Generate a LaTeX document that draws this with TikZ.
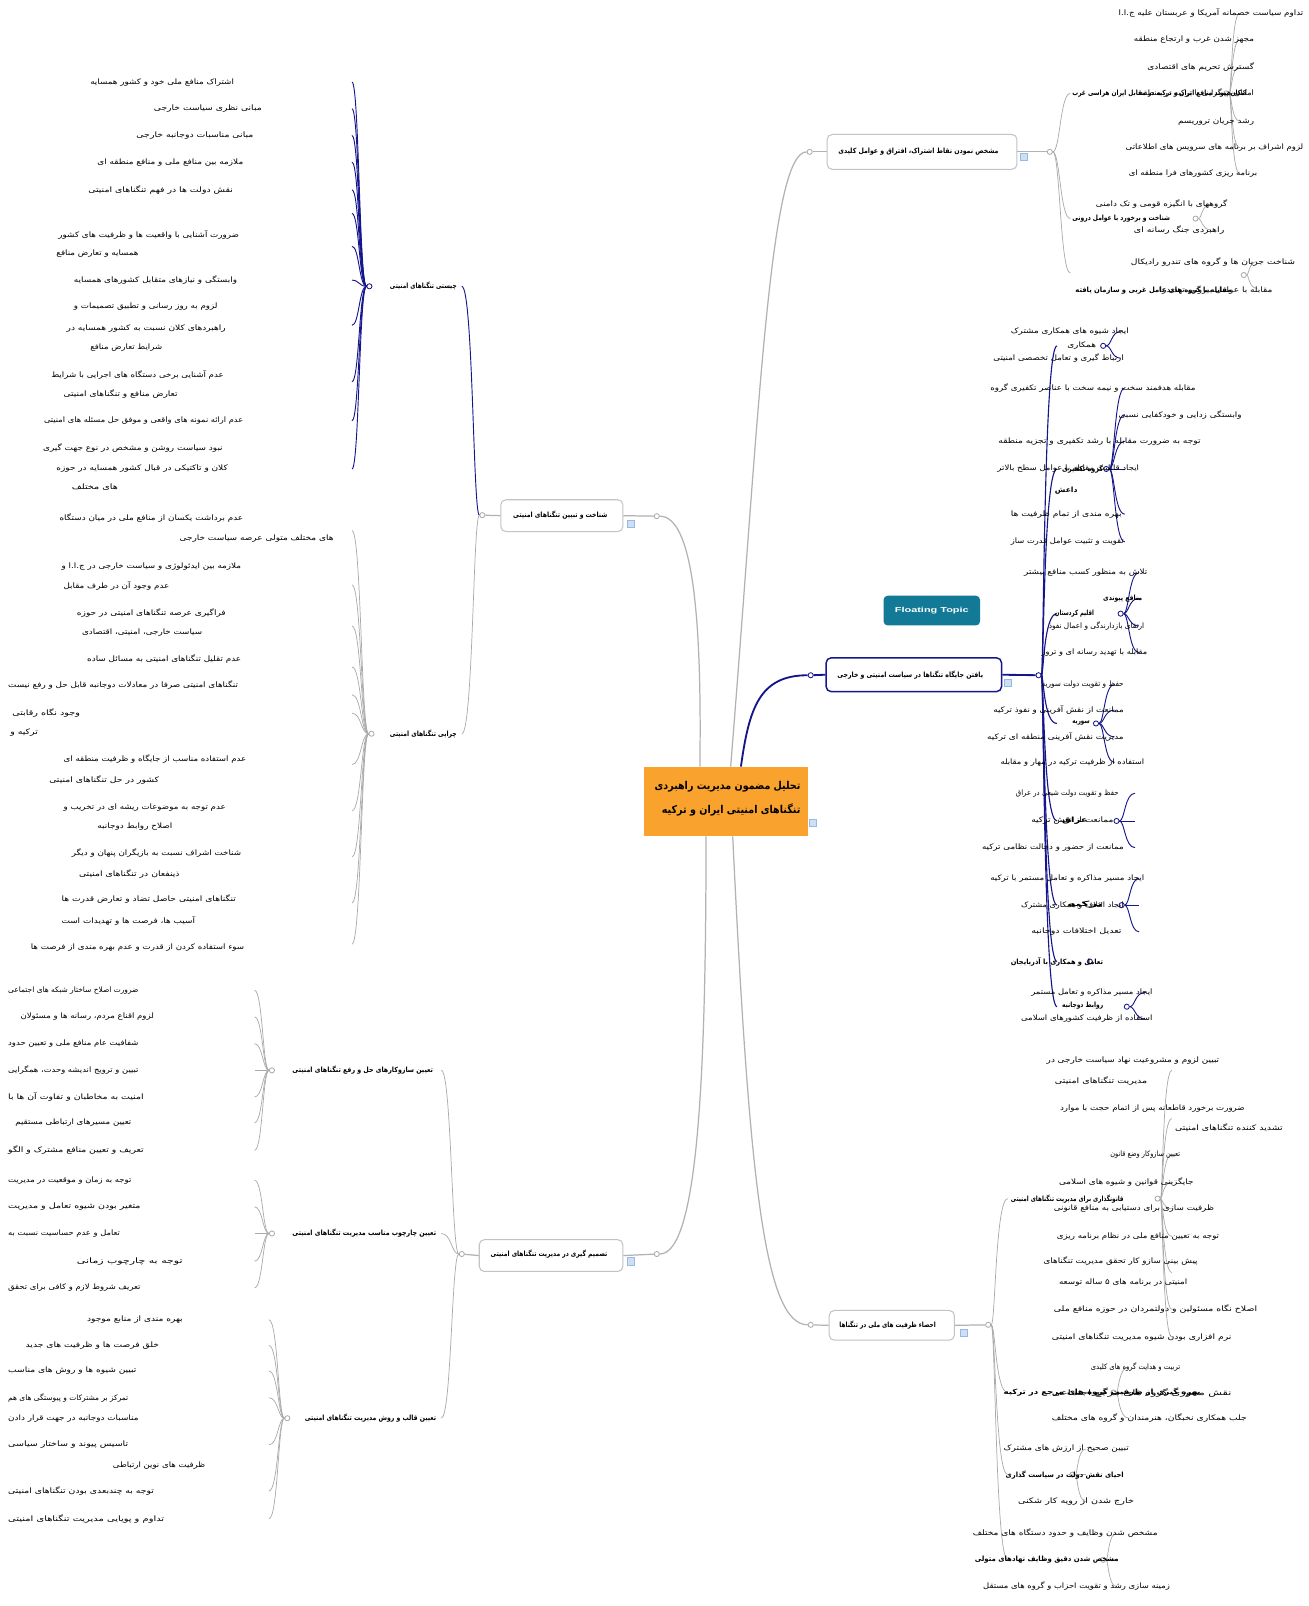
\documentclass[tikz,border=0pt]{standalone}
\usepackage{fontspec}
\usepackage{graphicx}
\setmainfont{DejaVu Sans}
\newfontfamily\farsi[Script=Arabic]{DejaVu Sans}
\newfontfamily\latinsans{Liberation Sans}
\TeXXeTstate=1
\definecolor{mnavy}{RGB}{22,22,140}
\definecolor{lgray}{RGB}{170,170,170}
\definecolor{bxgray}{RGB}{195,195,195}
\definecolor{orng}{RGB}{249,162,45}
\definecolor{ftteal}{RGB}{18,122,150}
\definecolor{plusf}{RGB}{205,222,245}
\definecolor{plusd}{RGB}{150,185,230}
\newcounter{tn}
\newcommand\fa[1]{{\farsi\beginR #1\endR}}
\newcommand\ptg[5]{%
  \stepcounter{tn}%
  \pgfmathsetmacro\tlx{(#2+#3)/2}%
  \pgfmathsetlengthmacro\tlw{#3-#2}%
  \node[#1] (t\arabic{tn}) at (\tlx,#4) {\resizebox{\tlw}{\height}{\fa{#5}}};}
\newcommand\ptx{\ptg{txt}}
\newcommand\ptb{\ptg{lbl}}
% #1 style, #2 circle node, #3 circle y, #4 spine x, #5 end x, #6 list of y
\newcommand\brk[6]{%
  \foreach \yy [count=\k] in {#6} {%
    \coordinate (#2-\k) at (#5,\yy);
    \draw[#1] (#2) .. controls (#4,#3) and (#4,\yy) .. (#2-\k);}}
\begin{document}
\begin{tikzpicture}[x=1pt,y=-1pt,
  txt/.style={inner sep=0pt, font=\fontsize{7.3}{8}\selectfont},
  lbl/.style={inner sep=0pt, font=\fontsize{7}{8}\selectfont\bfseries},
  rootf/.style={inner sep=0pt, font=\fontsize{10.5}{12}\selectfont\bfseries},
  nl/.style={draw=mnavy, line width=0.9pt},
  nlt/.style={draw=mnavy, line width=1.1pt},
  gl/.style={draw=lgray, line width=0.7pt},
  gmain/.style={draw=lgray!90, line width=1.2pt},
  nmain/.style={draw=mnavy, line width=1.8pt},
  jn/.style={circle, draw=#1, fill=white, inner sep=0pt, minimum size=5pt, line width=0.8pt},
  topic/.style={draw=bxgray, line width=1pt, rounded corners=5pt, fill=white, inner sep=0pt},
  plus/.style={draw=plusd, fill=plusf, inner sep=0pt, minimum size=7pt, line width=0.5pt}]
\useasboundingbox (0,0) rectangle (1275,1565);
\fill[white] (0,0) rectangle (1275,1565);

% ---------- root ----------
\node[fill=orng, minimum width=159, minimum height=68, inner sep=0pt] (root) at (707.5,781) {};
\ptg{rootf}{638}{780}{767}{تحلیل مضمون مدیریت راهبردی}
\ptg{rootf}{645}{780}{789}{تنگناهای امنیتی ایران و ترکیه}
\node[plus] (p0) at (792,802) {};
\coordinate (rt1) at (682,747);
\coordinate (rt2) at (712,747);
\coordinate (rt3) at (722,747);
\coordinate (rb1) at (688,815);
\coordinate (rb2) at (714,815);

% ---------- floating topic ----------
\node[fill=ftteal, rounded corners=4pt, minimum width=94, minimum height=29, inner sep=0pt, text=white] (ft) at (908,595)
  {\resizebox{72pt}{\height}{\latinsans\bfseries\fontsize{7}{8}\selectfont Floating Topic}};

% ---------- main boxes ----------
\node[topic, minimum width=185, minimum height=34] (btr) at (898.5,148) {};
\ptb{817}{973}{148}{مشخص نمودن نقاط اشتراک، افتراق و عوامل کلیدی}
\node[topic, minimum width=119, minimum height=31] (btl) at (547.5,502.5) {};
\ptb{500}{592}{502}{شناخت و تبیین تنگناهای امنیتی}
\node[topic, draw=mnavy, line width=1.4pt, minimum width=171, minimum height=33] (bmr) at (890.5,657.5) {};
\ptb{816}{958}{658}{یافتن جایگاه تنگناها در سیاست امنیتی و خارجی}
\node[topic, minimum width=140, minimum height=31] (bbl) at (537,1223.5) {};
\ptb{478}{592}{1222}{تصمیم گیری در مدیریت تنگناهای امنیتی}
\node[topic, minimum width=122, minimum height=29] (bbr) at (869,1291.5) {};
\ptb{818}{912}{1291}{احصاء ظرفیت های ملی در تنگناها}

\node[plus] (p1) at (998,153) {};
\node[plus] (p2) at (615,510) {};
\node[plus] (p3) at (982,665) {};
\node[plus] (p4) at (615,1229) {};
\node[plus] (p5) at (939,1299) {};

% ---------- junction circles ----------
\node[jn=lgray] (ctr) at (789,148) {};
\node[jn=lgray] (ctl) at (640,503) {};
\node[jn=mnavy] (cmr) at (790,658) {};
\node[jn=lgray] (cbl) at (640,1222) {};
\node[jn=lgray] (cbr) at (790,1291) {};
\node[jn=lgray] (jtr) at (1023,148) {};
\node[jn=lgray] (jtl) at (470,502) {};
\node[jn=mnavy] (jmr) at (1012,658) {};
\node[jn=lgray] (jbl) at (450,1222) {};
\node[jn=lgray] (jbr) at (963,1291) {};

% ---------- root connectors ----------
\draw[gmain] (rt1) .. controls (684,600) and (675,503) .. (ctl);
\draw[gmain] (rt2) .. controls (740,400) and (750,148) .. (ctr);
\draw[nmain] (rt3) .. controls (730,690) and (740,658) .. (cmr);
\draw[gmain] (rb1) .. controls (688,1050) and (680,1222) .. (cbl);
\draw[gmain] (rb2) .. controls (730,1150) and (745,1291) .. (cbr);
\draw[gmain] (ctr) -- (btr.west);
\draw[gmain] (ctl) -- (btl.east);
\draw[nmain] (cmr) -- (bmr.west);
\draw[gmain] (cbl) -- (bbl.east);
\draw[gmain] (cbr) -- (bbr.west);
\draw[gmain] (btr.east) -- (jtr);
\draw[gmain] (btl.west) -- (jtl);
\draw[nmain] (bmr.east) -- (jmr);
\draw[gmain] (bbl.west) -- (jbl);
\draw[gmain] (bbr.east) -- (jbr);

% =============== TOP RIGHT ===============
\node[jn=lgray] (cra) at (1195,91) {};
\node[jn=lgray] (crb) at (1165,213) {};
\node[jn=lgray] (crc) at (1212,268) {};
\brk{gl}{jtr}{148}{1033}{1043}{91,213,266}
\brk{gl}{cra}{91}{1200}{1208}{13,39,65,91,118,144,169}
\brk{gl}{crb}{213}{1171}{1180}{199,224}
\brk{gl}{crc}{268}{1217}{1225}{255,281}
\ptx{1090}{1270}{13}{تداوم سیاست خصمانه آمریکا و عربستان علیه ج.ا.ا}
\ptx{1105}{1222}{39}{مجهز شدن غرب و ارتجاع منطقه}
\ptx{1118}{1222}{65}{گسترش تحریم های اقتصادی}
\ptb{1045}{1215}{91}{امکان پیوند منافع ایران و ترکیه در مقابل ایران هراسی غرب}
\ptx{1110}{1222}{91}{امکان همگرایی با ترکیه در منطقه}
\ptx{1148}{1222}{118}{رشد جریان تروریسم}
\ptx{1097}{1270}{144}{لزوم اشراف بر برنامه های سرویس های اطلاعاتی}
\ptx{1100}{1225}{169}{برنامه ریزی کشورهای فرا منطقه ای}
\ptx{1068}{1196}{199}{گروههای با انگیزه قومی و تک دامنی}
\ptb{1045}{1140}{213}{شناخت و برخورد با عوامل درونی}
\ptx{1105}{1193}{224}{راهبردی جنگ رسانه ای}
\ptx{1102}{1262}{255}{شناخت جریان ها و گروه های تندرو رادیکال}
\ptb{1048}{1200}{283}{مقابله با گروه های عامل غربی و سازمان یافته}
\ptx{1130}{1240}{283}{مقابله با عوامل بیرونی تهدیدزا}

% =============== TOP LEFT ===============
\coordinate (el1) at (450,279);
\coordinate (el2) at (450,715);
\draw[nl] (jtl) .. controls (461,502) and (461,279) .. (el1);
\draw[gl] (jtl) .. controls (461,502) and (461,715) .. (el2);
\ptb{380}{445}{279}{چیستی تنگناهای امنیتی}
\ptb{380}{445}{715}{چرایی تنگناهای امنیتی}
\node[jn=mnavy] (cl1) at (360,279) {};
\node[jn=lgray] (cl2) at (362,715) {};
\brk{nl}{cl1}{279}{350}{343}{80,106,132,158,185,208,240,273,317,372,410,457}
\brk{gl}{cl2}{715}{352}{343}{517,570,610,650,677,695,745,790,835,880,920}

\ptx{88}{228}{80}{اشتراک منافع ملی خود و کشور همسایه}
\ptx{150}{255}{106}{مبانی نظری سیاست خارجی}
\ptx{133}{247}{132}{مبانی مناسبات دوجانبه خارجی}
\ptx{95}{237}{158}{ملازمه بین منافع ملی و منافع منطقه ای}
\ptx{86}{227}{185}{نقش دولت ها در فهم تنگناهای امنیتی}
\ptx{57}{233}{229}{ضرورت آشنایی با واقعیت ها و ظرفیت های کشور}
\ptx{55}{135}{247}{همسایه و تعارض منافع}
\ptx{72}{231}{273}{وابستگی و نیازهای متقابل کشورهای همسایه}
\ptx{72}{212}{299}{لزوم به روز رسانی و تطبیق تصمیمات و}
\ptx{65}{220}{320}{راهبردهای کلان نسبت به کشور همسایه در}
\ptx{88}{158}{339}{شرایط تعارض منافع}
\ptx{50}{218}{365}{عدم آشنایی برخی دستگاه های اجرایی با شرایط}
\ptx{62}{173}{384}{تعارض منافع و تنگناهای امنیتی}
\ptx{43}{237}{410}{عدم ارائه نمونه های واقعی و موفق حل مسئله های امنیتی}
\ptx{42}{217}{437}{نبود سیاست روشن و مشخص در نوع جهت گیری}
\ptx{55}{222}{457}{کلان و تاکتیکی در قبال کشور همسایه در حوزه}
\ptx{70}{115}{475}{های مختلف}

\ptx{58}{237}{505}{عدم برداشت یکسان از منافع ملی در میان دستگاه}
\ptx{175}{325}{525}{های مختلف متولی عرصه سیاست خارجی}
\ptx{60}{235}{552}{ملازمه بین ایدئولوژی و سیاست خارجی در ج.ا.ا و}
\ptx{62}{165}{571}{عدم وجود آن در طرف مقابل}
\ptx{75}{220}{597}{فراگیری عرصه تنگناهای امنیتی در حوزه}
\ptx{80}{197}{616}{سیاست خارجی، امنیتی، اقتصادی}
\ptx{85}{235}{642}{عدم تقلیل تنگناهای امنیتی به مسائل ساده}
\ptx{8}{232}{668}{تنگناهای امنیتی صرفا در معادلات دوجانبه قابل حل و رفع نیست}
\ptx{12}{78}{695}{وجود نگاه رقابتی}
\ptx{10}{37}{714}{ترکیه و}
\ptx{62}{240}{740}{عدم استفاده مناسب از جایگاه و ظرفیت منطقه ای}
\ptx{48}{155}{760}{کشور در حل تنگناهای امنیتی}
\ptx{62}{220}{787}{عدم توجه به موضوعات ریشه ای در تخریب و}
\ptx{95}{168}{805}{اصلاح روابط دوجانبه}
\ptx{70}{235}{831}{شناخت اشراف نسبت به بازیگران پنهان و دیگر}
\ptx{77}{175}{852}{ذینفعان در تنگناهای امنیتی}
\ptx{60}{230}{876}{تنگناهای امنیتی حاصل تضاد و تعارض قدرت ها}
\ptx{60}{190}{897}{آسیب ها، فرصت ها و تهدیدات است}
\ptx{30}{238}{923}{سوء استفاده کردن از قدرت و عدم بهره مندی از فرصت ها}

% =============== BOTTOM LEFT ===============
\brk{gl}{jbl}{1222}{440}{430}{1043,1202,1382}
\ptb{285}{422}{1043}{تعیین سازوکارهای حل و رفع تنگناهای امنیتی}
\ptb{285}{425}{1202}{تعیین چارچوب مناسب مدیریت تنگناهای امنیتی}
\ptb{297}{425}{1382}{تعیین قالب و روش مدیریت تنگناهای امنیتی}
\node[jn=lgray] (cb1) at (265,1043) {};
\node[jn=lgray] (cb2) at (265,1202) {};
\node[jn=lgray] (cb3) at (280,1382) {};
\brk{gl}{cb1}{1043}{256}{248}{965,991,1017,1043,1069,1094,1121}
\brk{gl}{cb2}{1202}{256}{248}{1150,1176,1202,1229,1255}
\brk{gl}{cb3}{1382}{271}{262}{1286,1311,1336,1362,1408,1453,1480}

\ptx{8}{135}{965}{ضرورت اصلاح ساختار شبکه های اجتماعی}
\ptx{20}{150}{991}{لزوم اقناع مردم، رسانه ها و مسئولان}
\ptx{8}{135}{1017}{شفافیت عام منافع ملی و تعیین حدود}
\ptx{8}{135}{1043}{تبیین و ترویج اندیشه وحدت، همگرایی}
\ptx{8}{140}{1069}{امنیت به مخاطبان و تفاوت آن ها با}
\ptx{15}{128}{1094}{تعیین مسیرهای ارتباطی مستقیم}
\ptx{8}{140}{1121}{تعریف و تعیین منافع مشترک و الگو}
\ptx{8}{128}{1150}{توجه به زمان و موقعیت در مدیریت}
\ptx{8}{137}{1176}{متغیر بودن شیوه تعامل و مدیریت}
\ptx{8}{117}{1202}{تعامل و عدم حساسیت نسبت به}
\ptx{75}{178}{1229}{توجه به چارچوب زمانی}
\ptx{8}{137}{1255}{تعریف شروط لازم و کافی برای تحقق}
\ptx{85}{178}{1286}{بهره مندی از منابع موجود}
\ptx{25}{155}{1311}{خلق فرصت ها و ظرفیت های جدید}
\ptx{8}{133}{1336}{تبیین شیوه ها و روش های مناسب}
\ptx{8}{125}{1362}{تمرکز بر مشترکات و پیوستگی های هم}
\ptx{8}{135}{1382}{مناسبات دوجانبه در جهت قرار دادن}
\ptx{8}{125}{1408}{تاسیس پیوند و ساختار سیاسی}
\ptx{110}{200}{1428}{ظرفیت های نوین ارتباطی}
\ptx{8}{150}{1453}{توجه به چندبعدی بودن تنگناهای امنیتی}
\ptx{8}{160}{1480}{تداوم و پویایی مدیریت تنگناهای امنیتی}

% =============== MIDDLE RIGHT ===============
\node[jn=mnavy] (cm1) at (1075,337) {};
\node[jn=mnavy] (cm2) at (1078,457) {};
\node[jn=mnavy] (cm3) at (1092,598) {};
\node[jn=mnavy] (cm4) at (1068,705) {};
\node[jn=mnavy] (cm5) at (1088,800) {};
\node[jn=mnavy] (cm6) at (1093,882) {};
\node[jn=mnavy] (cm7) at (1062,937) {};
\node[jn=mnavy] (cm8) at (1098,981) {};
\brk{nlt}{jmr}{658}{1017}{1030}{337,457,598,705,800,882,937,981}
\brk{nl}{cm1}{337}{1083}{1092}{323,349}
\brk{nl}{cm2}{457}{1086}{1096}{378,404,430,457,501,528}
\brk{nl}{cm3}{598}{1100}{1110}{558,583,610,636}
\brk{nl}{cm4}{705}{1076}{1086}{667,692,718,743}
\brk{nl}{cm5}{800}{1096}{1106}{773,800,826}
\brk{nl}{cm6}{882}{1101}{1110}{856,882,908}
\brk{nl}{cm8}{981}{1106}{1116}{967,993}

\ptx{985}{1100}{323}{ایجاد شیوه های همکاری مشترک}
\ptx{1040}{1068}{337}{همکاری}
\ptx{968}{1095}{349}{ارتباط گیری و تعامل تخصصی امنیتی}
\ptx{965}{1165}{378}{مقابله هدفمند سخت و نیمه سخت با عناصر تکفیری گروه}
\ptx{1090}{1210}{404}{وابستگی زدایی و خودکفایی نسبی}
\ptx{973}{1170}{430}{توجه به ضرورت مقابله با رشد تکفیری و تجزیه منطقه}
\ptx{972}{1110}{457}{ایجاد قابلیت مقابله با عوامل سطح بالاتر}
\ptb{1035}{1075}{457}{گروه تکفیری}
\ptb{1028}{1050}{478}{داعش}
\ptx{985}{1093}{501}{بهره مندی از تمام ظرفیت ها}
\ptx{985}{1095}{528}{تقویت و تثبیت عوامل قدرت ساز}
\ptx{998}{1118}{558}{تلاش به منظور کسب منافع بیشتر}
\ptb{1075}{1113}{583}{منافع پیوندی}
\ptb{1028}{1066}{598}{اقلیم کردستان}
\ptx{1022}{1115}{610}{ارتقای بازدارندگی و اعمال نفوذ}
\ptx{1015}{1118}{636}{مقابله با تهدید رسانه ای و ترور}
\ptx{1015}{1095}{667}{حفظ و تقویت دولت سوریه}
\ptx{968}{1095}{692}{ممانعت از نقش آفرینی و نفوذ ترکیه}
\ptb{1045}{1062}{705}{سوریه}
\ptx{962}{1095}{718}{مدیریت نقش آفرینی منطقه ای ترکیه}
\ptx{975}{1115}{743}{استفاده از ظرفیت ترکیه در مهار و مقابله}
\ptx{990}{1090}{773}{حفظ و تقویت دولت شیعی در عراق}
\ptx{1005}{1085}{800}{ممانعت از نقش ترکیه}
\ptb{1035}{1060}{800}{عراق}
\ptx{957}{1095}{826}{ممانعت از حضور و دخالت نظامی ترکیه}
\ptx{965}{1115}{856}{ایجاد مسیر مذاکره و تعامل مستمر با ترکیه}
\ptx{995}{1095}{882}{ایجاد ائتلاف و همکاری مشترک}
\ptb{1040}{1075}{882}{ترکیه}
\ptx{1005}{1093}{908}{تعدیل اختلافات دوجانبه}
\ptb{985}{1075}{937}{تعامل و همکاری با آذربایجان}
\ptx{1005}{1123}{967}{ایجاد مسیر مذاکره و تعامل مستمر}
\ptb{1035}{1075}{980}{روابط دوجانبه}
\ptx{995}{1123}{993}{استفاده از ظرفیت کشورهای اسلامی}

% =============== BOTTOM RIGHT ===============
\node[jn=lgray] (ch1) at (1128,1168) {};
\node[jn=lgray] (ch2) at (1085,1357) {};
\node[jn=lgray] (ch3) at (1045,1437) {};
\node[jn=lgray] (ch4) at (1075,1520) {};
\brk{gl}{jbr}{1291}{970}{982}{1168,1357,1437,1520}
\brk{gl}{ch1}{1168}{1133}{1142}{1043,1090,1125,1152,1178,1205,1240,1276,1303}
\brk{gl}{ch2}{1357}{1090}{1100}{1332,1357,1382}
\brk{gl}{ch3}{1437}{1050}{1058}{1412,1437,1463}
\brk{gl}{ch4}{1520}{1080}{1088}{1494,1520,1546}

\ptb{985}{1095}{1168}{قانونگذاری برای مدیریت تنگناهای امنیتی}
\ptx{1020}{1188}{1033}{تبیین لزوم و مشروعیت نهاد سیاست خارجی در}
\ptx{1028}{1118}{1053}{مدیریت تنگناهای امنیتی}
\ptx{1033}{1213}{1080}{ضرورت برخورد قاطعانه پس از اتمام حجت با موارد}
\ptx{1145}{1250}{1099}{تشدید کننده تنگناهای امنیتی}
\ptx{1082}{1150}{1125}{تعیین سازوکار وضع قانون}
\ptx{1032}{1163}{1152}{جایگزینی قوانین و شیوه های اسلامی}
\ptx{1027}{1183}{1178}{ظرفیت سازی برای دستیابی به منافع قانونی}
\ptx{1030}{1188}{1205}{توجه به تعیین منافع ملی در نظام برنامه ریزی}
\ptx{1017}{1167}{1229}{پیش بینی سازو کار تحقق مدیریت تنگناهای}
\ptx{1032}{1157}{1250}{امنیتی در برنامه های ۵ ساله توسعه}
\ptx{1027}{1225}{1276}{اصلاح نگاه مسئولین و دولتمردان در حوزه منافع ملی}
\ptx{1025}{1200}{1303}{نرم افزاری بودن شیوه مدیریت تنگناهای امنیتی}
\ptx{1063}{1150}{1332}{تربیت و هدایت گروه های کلیدی}
\ptb{978}{1170}{1357}{بهره گیری از ظرفیت گروه های مرجع در ترکیه}
\ptx{1025}{1200}{1357}{نقش محوری گروه های مرجع اجتماعی}
\ptx{1025}{1215}{1382}{جلب همکاری نخبگان، هنرمندان و گروه های مختلف}
\ptx{978}{1100}{1412}{تبیین صحیح از ارزش های مشترک}
\ptb{980}{1095}{1437}{احیای نقش دولت در سیاست گذاری}
\ptx{992}{1105}{1463}{خارج شدن از رویه کار شکنی}
\ptx{948}{1128}{1494}{مشخص شدن وظایف و حدود دستگاه های مختلف}
\ptb{950}{1090}{1520}{مشخص شدن دقیق وظایف نهادهای متولی}
\ptx{958}{1140}{1546}{زمینه سازی رشد و تقویت احزاب و گروه های مستقل}
\end{tikzpicture}
\end{document}
